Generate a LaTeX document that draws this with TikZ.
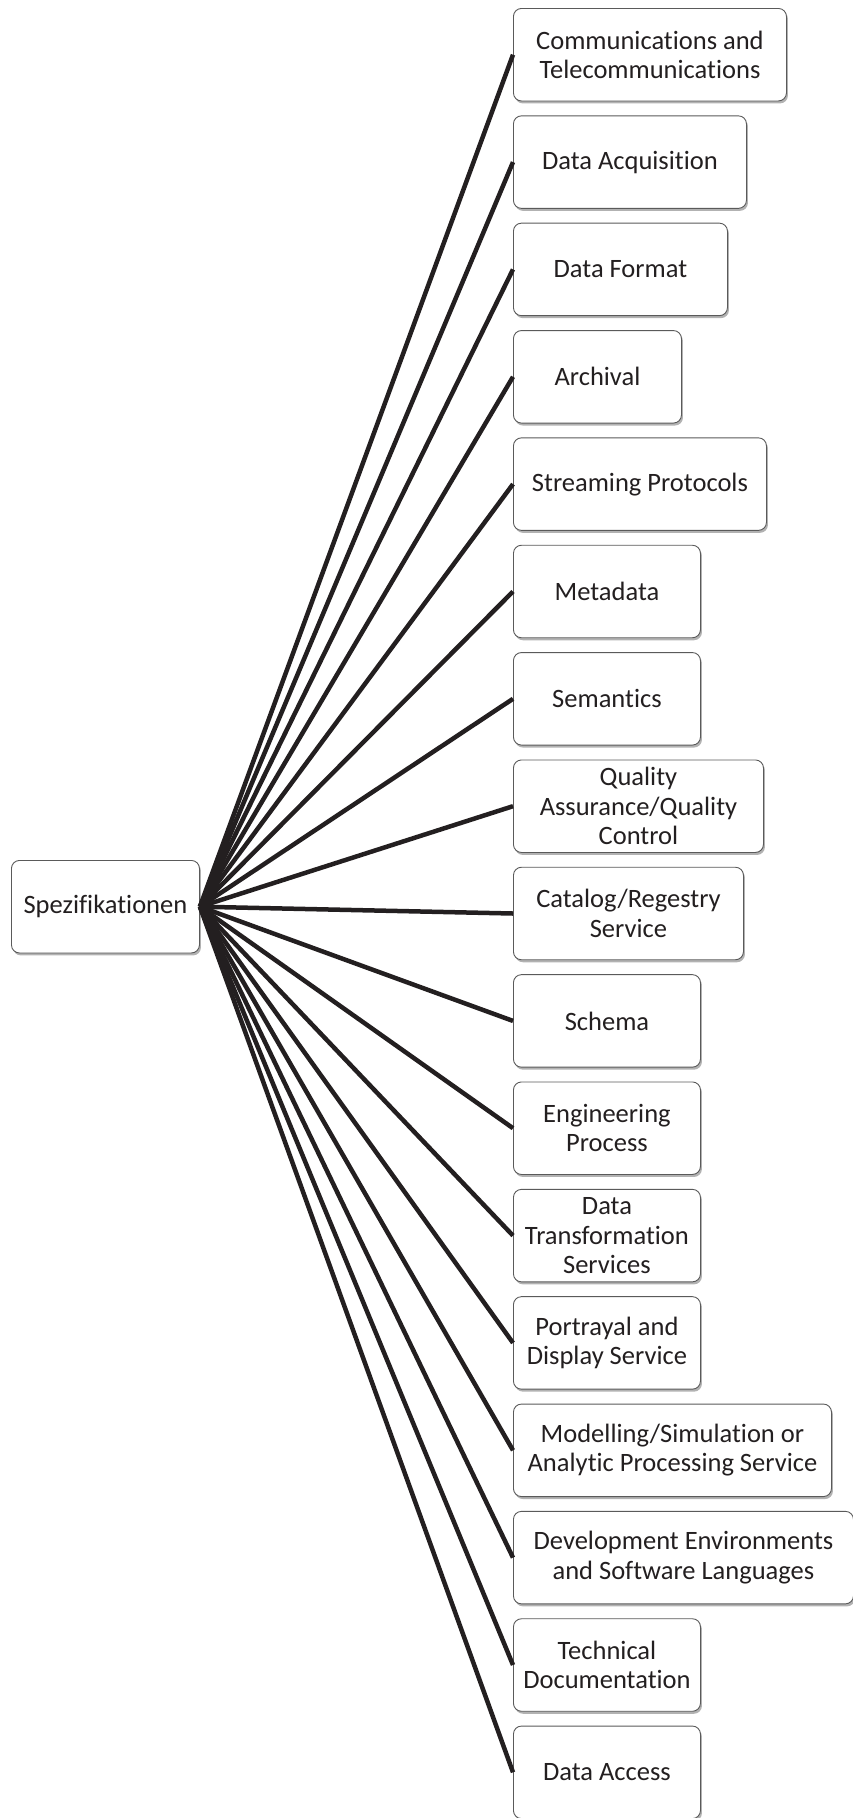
\documentclass[tikz,border=0pt]{standalone}
\usepackage{fontspec}
\setmainfont[Ligatures=NoCommon]{Carlito}
\usetikzlibrary{shadows}
\definecolor{ink}{HTML}{231F20}
\definecolor{frame}{HTML}{5A5A5A}
\tikzset{
  box/.style={draw=frame, line width=0.9pt, rounded corners=8pt, fill=white,
    anchor=north west, minimum height=92.5pt, inner sep=1pt, align=center,
    text=ink, font=\fontsize{26.5}{29.5}\selectfont,
    drop shadow={shadow xshift=1.5pt, shadow yshift=-2.5pt, fill=black, opacity=0.3}},
  spoke/.style={draw=ink, line width=4.5pt}
}
\begin{document}
\begin{tikzpicture}[x=1pt,y=-1pt]
\useasboundingbox (0,0) rectangle (853,1818);
% root
\node[box, minimum width=188pt] (spez) at (11,860) {Spezifikationen};
% leaves
\node[box, minimum width=273pt] (n0)  at (513,8)      {Communications and\\Telecommunications};
\node[box, minimum width=233pt] (n1)  at (513,115.4)  {Data Acquisition};
\node[box, minimum width=214pt] (n2)  at (513,222.7)  {Data Format};
\node[box, minimum width=168pt] (n3)  at (513,330.1)  {Archival};
\node[box, minimum width=253pt] (n4)  at (513,437.4)  {Streaming Protocols};
\node[box, minimum width=187pt] (n5)  at (513,544.8)  {Metadata};
\node[box, minimum width=187pt] (n6)  at (513,652.1)  {Semantics};
\node[box, minimum width=250pt] (n7)  at (513,759.5)  {Quality\\Assurance/Quality\\Control};
\node[box, minimum width=230pt] (n8)  at (513,866.8)  {Catalog/Regestry\\Service};
\node[box, minimum width=187pt] (n9)  at (513,974.2)  {Schema};
\node[box, minimum width=187pt] (n10) at (513,1081.5) {Engineering\\Process};
\node[box, minimum width=187pt] (n11) at (513,1188.9) {Data\\Transformation\\Services};
\node[box, minimum width=187pt] (n12) at (513,1296.2) {Portrayal and\\Display Service};
\node[box, minimum width=318pt] (n13) at (513,1403.6) {Modelling/Simulation or\\Analytic Processing Service};
\node[box, minimum width=340pt] (n14) at (513,1510.9) {Development Environments\\and Software Languages};
\node[box, minimum width=187pt] (n15) at (513,1618.3) {Technical\\Documentation};
\node[box, minimum width=187pt] (n16) at (513,1725.6) {Data Access};
% fan of connectors from the root
\foreach \i in {0,...,16}
  \draw[spoke] (spez.east) -- (n\i.west);
\end{tikzpicture}
\end{document}
